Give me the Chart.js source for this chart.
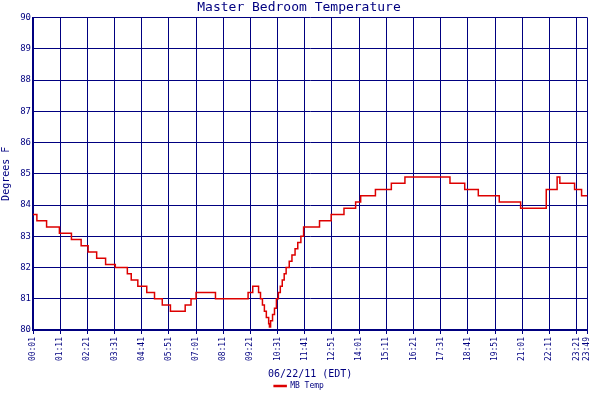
<!DOCTYPE html>
<html><head><meta charset="utf-8">
<script src="https://cdn.jsdelivr.net/npm/chart.js@4/dist/chart.umd.min.js"></script>
<style>html,body{margin:0;background:#fff}</style>
</head><body><canvas id="c" width="600" height="400"></canvas>
<script>
// minutes since midnight when reading changed, and the reading (deg F)
const times = [1, 11, 36, 69, 100, 125, 143, 165, 188, 213, 244, 254, 271, 294, 314, 334, 355, 393, 408, 421, 471, 555, 567, 582, 587, 592, 597, 602, 608, 610, 613, 618, 623, 628, 633, 638, 643, 648, 653, 661, 668, 676, 683, 691, 698, 739, 769, 802, 832, 845, 883, 924, 959, 1075, 1113, 1148, 1202, 1257, 1323, 1351, 1358, 1396, 1414, 1429];
const temps = [83.7, 83.5, 83.3, 83.1, 82.9, 82.7, 82.5, 82.3, 82.1, 82.0, 81.8, 81.6, 81.4, 81.2, 81.0, 80.8, 80.6, 80.8, 81.0, 81.2, 81.0, 81.2, 81.4, 81.2, 81.0, 80.8, 80.6, 80.4, 80.2, 80.1, 80.3, 80.5, 80.7, 81.0, 81.2, 81.4, 81.6, 81.8, 82.0, 82.2, 82.4, 82.6, 82.8, 83.0, 83.3, 83.5, 83.7, 83.9, 84.1, 84.3, 84.5, 84.7, 84.9, 84.7, 84.5, 84.3, 84.1, 83.9, 84.5, 84.9, 84.7, 84.5, 84.3, 84.3];
const xTicks = [1, 71, 141, 211, 281, 351, 421, 491, 561, 631, 701, 771, 841, 911, 981, 1051, 1121, 1191, 1261, 1331, 1401, 1429];

const NAVY = '#000080';
const MONO = '"DejaVu Sans Mono", monospace';
const hhmm = m => String(Math.floor(m / 60)).padStart(2, '0') + ':' + String(m % 60).padStart(2, '0');

new Chart(document.getElementById('c'), {
  type: 'line',
  data: {
    datasets: [{
      label: 'MB Temp',
      data: times.map((t, i) => ({ x: t, y: temps[i] })),
      borderColor: '#dd0000',
      backgroundColor: '#dd0000',
      borderWidth: 1.5,
      pointRadius: 0,
      stepped: 'before',
      fill: false
    }]
  },
  options: {
    responsive: false,
    animation: false,
    layout: { padding: { right: 2, top: 0 } },
    plugins: {
      title: { display: true, text: 'Master Bedroom Temperature', color: NAVY, font: { family: MONO, size: 13, weight: 'normal' }, padding: { top: 0, bottom: 2 } },
      legend: {
        position: 'bottom',
        labels: { color: NAVY, font: { family: MONO, size: 8 }, boxWidth: 12, boxHeight: 1, padding: 2 }
      },
      tooltip: { enabled: false }
    },
    scales: {
      x: {
        type: 'linear', min: 1, max: 1429,
        afterBuildTicks: s => { s.ticks = xTicks.map(v => ({ value: v })); },
        afterFit: s => { s.height = 50; },
        ticks: { color: NAVY, font: { family: MONO, size: 8 }, maxRotation: 90, minRotation: 90, autoSkip: false, callback: v => hhmm(v) },
        grid: { color: NAVY, lineWidth: 1, tickLength: 4 },
        border: { color: NAVY, width: 2 },
        title: { display: true, text: '06/22/11 (EDT)', color: NAVY, font: { family: MONO, size: 10 }, padding: 0 }
      },
      y: {
        min: 80, max: 90,
        afterFit: s => { s.width = 33; },
        ticks: { stepSize: 1, color: NAVY, font: { family: MONO, size: 9 }, padding: 2 },
        grid: { color: NAVY, lineWidth: 1, tickLength: 0 },
        border: { color: NAVY, width: 2 },
        title: { display: true, text: 'Degrees F', color: NAVY, font: { family: MONO, size: 10 }, padding: 0 }
      }
    }
  },
  plugins: [{ id: 'bg', beforeDraw: c => { const x = c.ctx; x.save(); x.fillStyle = '#fff'; x.fillRect(0, 0, c.width, c.height); x.restore(); } }]
});
</script>
</body></html>
